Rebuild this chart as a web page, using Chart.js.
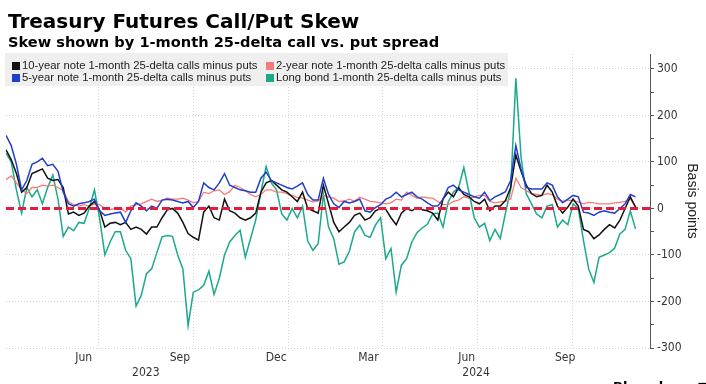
<!DOCTYPE html>
<html>
<head>
<meta charset="utf-8">
<style>
    html, body { margin: 0; padding: 0; background: #fff; overflow: hidden; }
    #wrap { position: relative; width: 706px; height: 384px; }
    #skewChart { position: absolute; left: 0; top: 0; }
    #title { position: absolute; left: 8px; top: 9px; font: bold 20px 'DejaVu Sans', sans-serif; color: #000; white-space: nowrap; }
    #subtitle { position: absolute; left: 8px; top: 33px; font: bold 14.6px 'DejaVu Sans', sans-serif; color: #000; white-space: nowrap; }
    #legend { position: absolute; left: 5px; top: 53px; width: 503px; height: 33px; background: rgba(236, 236, 236, 0.85); }
    .leg-item { position: absolute; font: 11.3px 'Liberation Sans', Arial, sans-serif; color: #222; white-space: nowrap; line-height: 12px; }
    .leg-item i { display: inline-block; width: 8px; height: 8px; margin-right: 2px; vertical-align: -1px; }
    #brand { position: absolute; left: 613px; top: 379px; font: bold 13px 'DejaVu Sans', sans-serif; color: #000; white-space: nowrap; }
</style>
</head>
<body>
<div id="wrap">
    <canvas id="skewChart" width="706" height="384"></canvas>
    <div id="title">Treasury Futures Call/Put Skew</div>
    <div id="subtitle">Skew shown by 1-month 25-delta call vs. put spread</div>
    <div id="legend"></div>
    <div id="brand">Bloomberg &#9632;</div>
</div>

<script src="https://cdn.jsdelivr.net/npm/chart.js"></script>

<script>
    // Observations roughly every 5 calendar days, day 0 = 3 Apr 2023
    const dayStep = 608 / 121;

    // Basis points
    const tenYear = [126, 105, 75, 35, 45, 75, 80, 85, 65, 60, 62, 45, -12, -8, -15, -10, 5, 15, -4, -40, -32, -30, -35, -30, -45, -40, -45, -55, -40, -40, -20,
        -3, 0, -10, -30, -54, -62, -68, -8, 5, -20, -25, 20, -5, -10, -20, -25, -20, -10, 35, 55, 60, 50, 40, 35, 25, 15, 35, 0, -5, -10, 50,
        10, -30, -50, -40, -30, -15, -10, -25, -20, -5, 0, -2, -20, -35, -10, 0, -5, 2, -3, -5, -10, -25, 20, 35, 25, 45, 30, 25, 15, 10, 20,
        -5, 5, 5, 17, 45, 115, 80, 50, 32, 25, 28, 50, 35, 5, -10, 3, 20, 5, -45, -50, -65, -57, -45, -35, -42, -25, 0, 25, 3];

    const twoYear = [62, 70, 55, 40, 32, 45, 45, 50, 48, 50, 45, 38, 15, 8, 5, 8, 5, 10, 8, 0, -3, 0, 2, -8, 5, 8, 10, 15, 20, 15, 18,
        22, 20, 20, 22, 18, 12, 15, 35, 32, 38, 40, 30, 36, 50, 45, 38, 30, 25, 30, 40, 40, 35, 35, 32, 28, 24, 22, 18, 14, 16, 28,
        25, 22, 15, 16, 20, 16, 24, 20, 15, 14, 12, 10, 12, 20, 18, 35, 28, 22, 25, 23, 22, 15, 8, 8, 15, 18, 25, 22, 25, 28, 28,
        15, 12, 14, 15, 20, 65, 45, 38, 32, 30, 28, 32, 30, 20, 15, 18, 17, 14, 10, 13, 12, 10, 10, 10, 12, 13, 15, 20, 5];

    const fiveYear = [157, 135, 95, 40, 60, 95, 100, 108, 92, 95, 80, 35, 10, 5, 10, 12, 15, 20, -5, -15, -12, -10, -8, -30, -5, 12, 5, -5, 5, 0, 18,
        20, 18, 15, 12, 15, 2, 15, 55, 45, 40, 55, 75, 50, 45, 40, 38, 35, 35, 65, 78, 60, 55, 50, 45, 42, 48, 55, 30, 18, 18, 65,
        30, 10, 2, 15, 12, 15, 20, -5, -8, 2, 8, 20, 25, 35, 25, 30, 35, 25, 20, 12, 5, 5, 20, 45, 50, 40, 35, 30, 25, 22, 35,
        17, 25, 30, 36, 60, 135, 85, 45, 42, 42, 42, 55, 50, 25, 12, 20, 28, 25, -8, -10, -15, -8, -5, -8, -10, 0, 10, 30, 25];

    const longBond = [119, 100, 40, -10, 45, 25, 40, 10, 45, 72, 20, -60, -40, -48, -30, -32, 0, 40, -22, -100, -72, -50, -50, -90, -108, -210, -187, -140, -130, -95, -61,
        -58, -60, -100, -130, -252, -180, -175, -165, -135, -185, -150, -100, -72, -58, -47, -105, -65, -25, 35, 90, 55, 40, -12, -25, 0, -20, 5, -70, -90, -76, 30,
        -40, -65, -120, -115, -92, -50, -36, -58, -62, -36, -20, -108, -86, -180, -122, -108, -72, -52, -42, -34, -12, -10, -40, 14, 35, 45, 88, 34, -20, -40, -32,
        -69, -45, -65, -10, 40, 280, 110, 32, 10, -12, -20, 5, 8, -40, -25, -35, 10, 0, -69, -130, -159, -105, -100, -95, -85, -55, -45, -5, -44];

    const seriesNames = [
        '10-year note 1-month 25-delta calls minus puts',
        '2-year note 1-month 25-delta calls minus puts',
        '5-year note 1-month 25-delta calls minus puts',
        'Long bond 1-month 25-delta calls minus puts'
    ];
    const seriesColors = ['#111111', '#f27d78', '#1f3fcc', '#1aa98a'];

    // x axis ticks (days since 3 Apr 2023)
    const quarterGridDays = [89, 181, 273, 364, 455, 547];
    const monthLabels = ['Jun', 'Sep', 'Dec', 'Mar', 'Jun', 'Sep'];
    const monthTickDays = [75, 168, 261, 350, 445, 540];
    const yearLabels = ['2023', '2024'];
    const yearTickDays = [135, 454];
    const xMax = 622;

    // y axis ticks
    const yTicks = [-300, -250, -200, -150, -100, -50, 0, 50, 100, 150, 200, 250, 300];

    const toPoints = arr => arr.map((v, i) => ({ x: i * dayStep, y: v }));

    // HTML legend, two columns like the original
    const legendPos = [[7, 6], [261, 6], [7, 18], [261, 18]];
    const legendEl = document.getElementById('legend');
    seriesNames.forEach((name, k) => {
        const item = document.createElement('div');
        item.className = 'leg-item';
        item.style.left = legendPos[k][0] + 'px';
        item.style.top = legendPos[k][1] + 'px';
        item.innerHTML = '<i style="background:' + seriesColors[k] + '"></i>' + name;
        legendEl.appendChild(item);
    });

    const axisFont = { family: "'Liberation Sans Narrow', 'DejaVu Sans Condensed', 'Liberation Sans', sans-serif", size: 12 };
    const gridGrey = '#d4d4d4';

    const datasets = [
        {
            label: 'zero',
            data: [{ x: 0, y: 0 }, { x: xMax, y: 0 }],
            borderColor: '#e31d3b',
            borderWidth: 3,
            borderDash: [8, 4],
            pointRadius: 0
        },
        { label: seriesNames[2], data: toPoints(fiveYear), borderColor: seriesColors[2], borderWidth: 1.5 },
        { label: seriesNames[0], data: toPoints(tenYear), borderColor: seriesColors[0], borderWidth: 1.5 },
        { label: seriesNames[1], data: toPoints(twoYear), borderColor: seriesColors[1], borderWidth: 1.3 },
        { label: seriesNames[3], data: toPoints(longBond), borderColor: seriesColors[3], borderWidth: 1.5 }
    ];

    new Chart(document.getElementById('skewChart'), {
        type: 'line',
        data: { datasets: datasets },
        options: {
            responsive: false,
            animation: false,
            devicePixelRatio: 1,
            layout: { padding: { left: 6, top: 54, right: 0, bottom: 0 } },
            elements: { point: { radius: 0 }, line: { tension: 0, fill: false } },
            plugins: {
                legend: { display: false },
                tooltip: { enabled: false }
            },
            scales: {
                x: {
                    type: 'linear', position: 'bottom', min: 0, max: xMax, weight: 0,
                    afterBuildTicks: s => { s.ticks = quarterGridDays.map(v => ({ value: v })); },
                    afterFit: s => { s.height = 0; },
                    ticks: { display: false },
                    grid: { color: gridGrey, lineWidth: 1, drawTicks: false },
                    border: { display: false, dash: [1, 2] }
                },
                xm: {
                    type: 'linear', position: 'bottom', min: 0, max: xMax, weight: 1,
                    afterBuildTicks: s => { s.ticks = monthTickDays.map(v => ({ value: v })); },
                    afterFit: s => { s.height = 16; },
                    ticks: {
                        autoSkip: false, maxRotation: 0, padding: 3, font: axisFont, color: '#333',
                        callback: (v, i) => monthLabels[i]
                    },
                    grid: { display: false, drawTicks: false },
                    border: { display: false }
                },
                xy: {
                    type: 'linear', position: 'bottom', min: 0, max: xMax, weight: 2,
                    afterBuildTicks: s => { s.ticks = yearTickDays.map(v => ({ value: v })); },
                    afterFit: s => { s.height = 20; },
                    ticks: {
                        autoSkip: false, maxRotation: 0, padding: 2, font: axisFont, color: '#333',
                        callback: (v, i) => yearLabels[i]
                    },
                    grid: { display: false, drawTicks: false },
                    border: { display: false }
                },
                y: {
                    position: 'right', min: -300, max: 332,
                    afterBuildTicks: s => { s.ticks = yTicks.map(v => ({ value: v })); },
                    afterFit: s => { s.width = 56; },
                    ticks: {
                        autoSkip: false, padding: 3, font: axisFont, color: '#333',
                        callback: v => (v % 100 === 0 ? v : '')
                    },
                    grid: {
                        color: ctx => (ctx.tick && ctx.tick.value % 100 === 0 ? gridGrey : 'rgba(0,0,0,0)'),
                        tickColor: '#555',
                        tickLength: 4,
                        tickBorderDash: []
                    },
                    border: { display: true, color: '#555', width: 1, dash: [1, 2] },
                    title: {
                        display: true,
                        text: 'Basis points',
                        color: '#222',
                        font: { family: "'Liberation Sans', Arial, sans-serif", size: 14 },
                        padding: 6
                    }
                }
            }
        }
    });
</script>
</body>
</html>
